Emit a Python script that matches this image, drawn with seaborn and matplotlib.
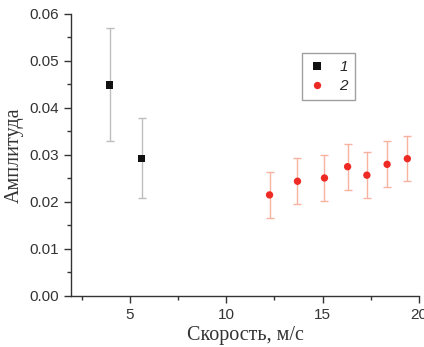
import numpy as np
import pandas as pd
import matplotlib.pyplot as plt
import seaborn as sns
from matplotlib.ticker import MultipleLocator

# series 1 (black squares)
speed1 = [3.95, 5.62]
amp1 = [0.0449, 0.0293]
err1 = [0.0120, 0.0085]

# series 2 (red circles)
speed2 = [12.25, 13.7, 15.1, 16.3, 17.3, 18.35, 19.4]
amp2 = [0.0215, 0.0244, 0.0251, 0.0275, 0.0257, 0.0280, 0.0292]
err2 = [0.0049, 0.0049, 0.0049, 0.0049, 0.0049, 0.0049, 0.0048]

df = pd.DataFrame({
    'speed': speed1 + speed2,
    'amp': amp1 + amp2,
    'series': ['1'] * len(speed1) + ['2'] * len(speed2),
})

sns.set_style("ticks")
plt.rcParams['font.family'] = ['Liberation Sans', 'DejaVu Sans']

fig = plt.figure(figsize=(4.24, 3.47), dpi=100)
ax = fig.add_axes([0.1675, 0.147, 0.8205, 0.813])

ax.errorbar(speed1, amp1, yerr=err1, fmt='none', ecolor='#bdbdbd',
            elinewidth=1, capsize=3, capthick=1, zorder=1)
ax.errorbar(speed2, amp2, yerr=err2, fmt='none', ecolor='#f7b2a0',
            elinewidth=1, capsize=3, capthick=1, zorder=1)

sns.scatterplot(data=df, x='speed', y='amp', hue='series', style='series',
                markers={'1': 's', '2': 'o'},
                palette={'1': '#111111', '2': '#ee2a24'},
                s=28, linewidth=0, ax=ax, zorder=3)

ax.set_xlim(1.95, 20)
ax.set_ylim(0, 0.06)
ax.xaxis.set_major_locator(MultipleLocator(5))
ax.xaxis.set_minor_locator(MultipleLocator(2.5))
ax.yaxis.set_major_locator(MultipleLocator(0.01))
ax.yaxis.set_minor_locator(MultipleLocator(0.005))
ax.yaxis.set_major_formatter(plt.FormatStrFormatter('%.2f'))
ax.tick_params(which='major', direction='out', length=5, width=1, labelsize=11,
               colors='#333333')
ax.tick_params(which='minor', direction='out', length=3, width=1, colors='#333333')
for sp in ['left', 'bottom']:
    ax.spines[sp].set_color('#333333')
    ax.spines[sp].set_linewidth(1)
sns.despine(ax=ax)

ax.set_xlabel('Скорость, м/с', family='Liberation Serif', fontsize=14.5,
              color='#333333', labelpad=3)
ax.set_ylabel('Амплитуда', family='Liberation Serif', fontsize=14.5,
              color='#333333', labelpad=4)

leg = ax.legend(loc='upper left', bbox_to_anchor=(0.664, 0.862), frameon=True,
                fancybox=False, edgecolor='#888888', handletextpad=1.0,
                handlelength=1.2, borderpad=0.5, labelspacing=0.35,
                borderaxespad=0, markerscale=1.0)
for t in leg.get_texts():
    t.set_fontstyle('italic')
    t.set_fontsize(11)
leg.get_frame().set_linewidth(1)

fig.savefig('out.png', dpi=100)
